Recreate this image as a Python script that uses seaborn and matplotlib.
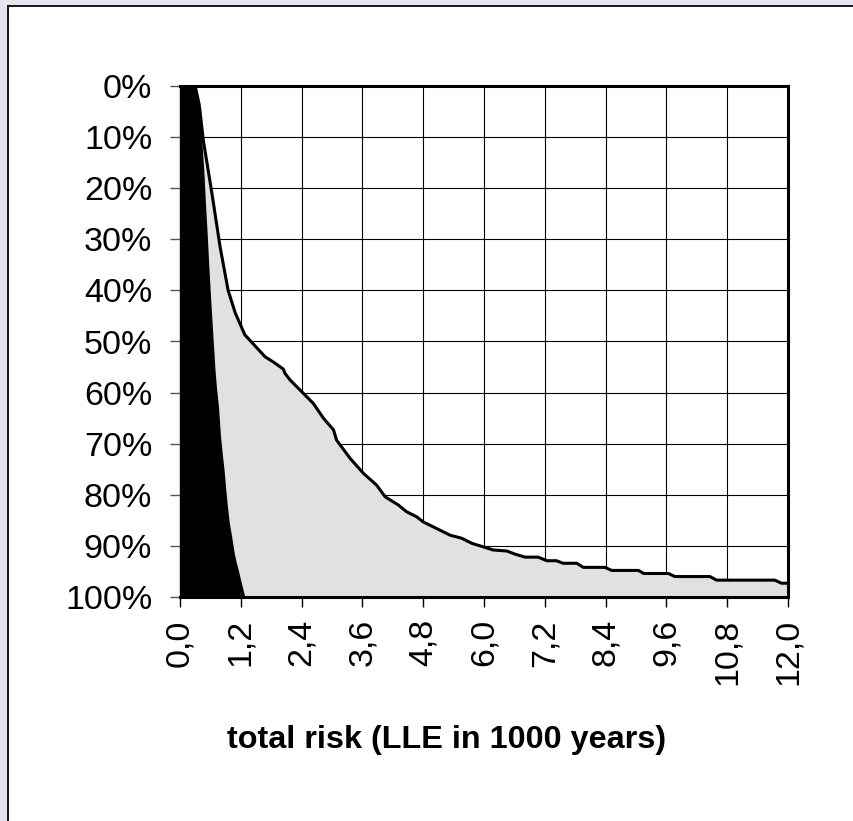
import matplotlib
matplotlib.use("Agg")
import matplotlib.pyplot as plt
from matplotlib.patches import Rectangle
from matplotlib.ticker import FixedLocator
import seaborn as sns
import pandas as pd

# ---- data ----
gray_risk = [0.00, 0.30, 0.38, 0.46, 0.63, 0.79, 0.95, 1.09, 1.28, 1.68, 1.84, 2.04, 2.07,
             2.17, 2.63, 2.83, 3.03, 3.09, 3.36, 3.62, 3.88, 4.05, 4.31, 4.47, 4.67, 4.80,
             5.33, 5.56, 5.76, 5.99, 6.18, 6.45, 6.61, 6.81, 7.07, 7.24, 7.43, 7.56, 7.83,
             7.96, 8.39, 8.52, 9.05, 9.15, 9.64, 9.77, 10.46, 10.59, 11.74, 11.87, 12.00]
gray_pct = [0.0, 0.0, 3.7, 10.6, 21.0, 31.4, 40.0, 44.4, 48.7, 53.0, 54.0, 55.4, 56.2,
            57.5, 62.1, 65.0, 67.3, 69.3, 72.9, 75.8, 78.1, 80.4, 82.0, 83.3, 84.3, 85.3,
            87.9, 88.5, 89.5, 90.2, 90.8, 91.0, 91.6, 92.2, 92.2, 92.9, 92.9, 93.4, 93.4,
            94.2, 94.2, 94.8, 94.8, 95.4, 95.4, 96.0, 96.0, 96.7, 96.7, 97.3, 97.3]

black_risk = [0.00, 0.30, 0.39, 0.43, 0.47, 0.50, 0.54, 0.57, 0.61, 0.65, 0.69, 0.72,
              0.76, 0.80, 0.84, 0.87, 0.90, 0.93, 0.97, 1.02, 1.07, 1.11, 1.15, 1.19,
              1.23, 1.28]
black_pct = [0.0, 0.0, 4.0, 10.6, 16.5, 22.5, 29.5, 35.5, 42.5, 49.0, 55.4, 59.0,
             62.8, 68.6, 72.5, 75.1, 78.6, 81.7, 85.3, 88.2, 91.4, 93.2, 94.7, 96.4,
             98.0, 100.0]

x_ticks = [0.0, 1.2, 2.4, 3.6, 4.8, 6.0, 7.2, 8.4, 9.6, 10.8, 12.0]
x_tick_labels = ["0,0", "1,2", "2,4", "3,6", "4,8", "6,0", "7,2", "8,4", "9,6", "10,8", "12,0"]
y_ticks = [0, 10, 20, 30, 40, 50, 60, 70, 80, 90, 100]
y_tick_labels = ["0%", "10%", "20%", "30%", "40%", "50%", "60%", "70%", "80%", "90%", "100%"]
x_title = "total risk (LLE in 1000 years)"

gray_df = pd.DataFrame({"risk": gray_risk, "pct": gray_pct})
black_df = pd.DataFrame({"risk": black_risk, "pct": black_pct})

# ---- style ----
sns.set_style("white")
plt.rcParams["font.family"] = ["Liberation Sans", "DejaVu Sans"]

W, H = 854, 821
fig = plt.figure(figsize=(W / 100, H / 100), dpi=100)
fig.patch.set_facecolor("white")

# outer frame fragments (lavender strip + dark edge at top/left)
lav = "#e4e4ee"
fig.add_artist(Rectangle((0, 1 - 5 / H), 1, 5 / H, transform=fig.transFigure,
                         facecolor=lav, edgecolor="none", zorder=0))
fig.add_artist(Rectangle((0, 0), 7 / W, 1, transform=fig.transFigure,
                         facecolor=lav, edgecolor="none", zorder=0))
fig.add_artist(Rectangle((7 / W, 0), 2 / W, 1 - 5 / H, transform=fig.transFigure,
                         facecolor="#1a1a1a", edgecolor="none", zorder=1))
fig.add_artist(Rectangle((7 / W, 1 - 7 / H), 1 - 7 / W, 2 / H, transform=fig.transFigure,
                         facecolor="#1a1a1a", edgecolor="none", zorder=1))

ax = fig.add_axes([180 / W, 1 - 597 / H, 608 / W, 511 / H])
ax.set_facecolor("white")

# gray area (between curve and 100%)
ax.fill_between(gray_df["risk"], gray_df["pct"], 100, color="#e1e1e1", linewidth=0, zorder=2)
# black area
ax.fill_between(black_df["risk"], black_df["pct"], 100, color="black", linewidth=0, zorder=3)
# outline of gray area
sns.lineplot(data=gray_df, x="risk", y="pct", sort=False, estimator=None,
             color="black", linewidth=2.2, ax=ax, zorder=4)

ax.set_xlim(0, 12)
ax.set_ylim(100, 0)

ax.xaxis.set_major_locator(FixedLocator(x_ticks))
ax.set_xticklabels(x_tick_labels, rotation=90, fontsize=24.5)
ax.yaxis.set_major_locator(FixedLocator(y_ticks))
ax.set_yticklabels(y_tick_labels, fontsize=24.5)

ax.grid(True, color="black", linewidth=0.8, zorder=1)
ax.set_axisbelow(True)

ax.tick_params(axis="x", direction="out", length=7, width=1, color="black", pad=9,
               bottom=True, labelcolor="black")
ax.tick_params(axis="y", direction="out", length=7, width=1, color="#555555", pad=13,
               left=True, labelcolor="black")

for side in ["top", "right", "bottom"]:
    ax.spines[side].set_visible(True)
    ax.spines[side].set_linewidth(2.2)
    ax.spines[side].set_color("black")
    ax.spines[side].set_zorder(5)
ax.spines["left"].set_linewidth(1)
ax.spines["left"].set_color("black")

ax.set_xlabel("")
ax.set_ylabel("")

fig.text(447 / W, 1 - 748 / H, x_title, ha="center", va="baseline",
         fontsize=23.3, fontweight="bold", color="black")

fig.savefig("out.png", dpi=100)
